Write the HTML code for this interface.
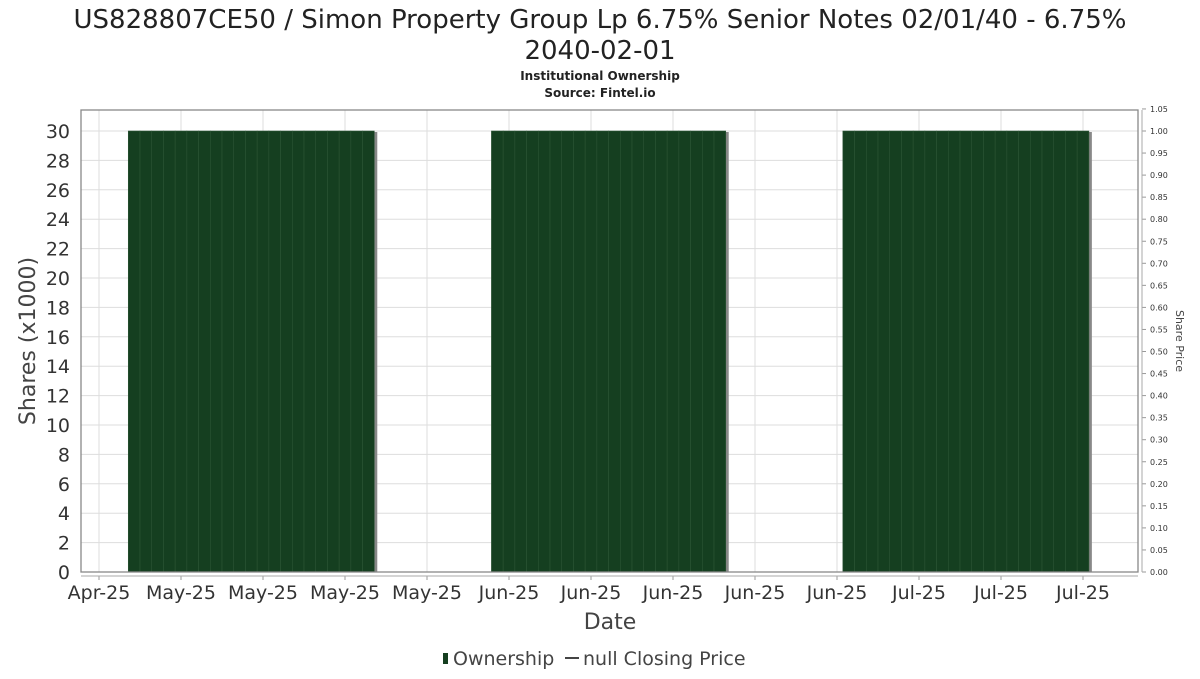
<!DOCTYPE html>
<html><head><meta charset="utf-8"><style>
body{margin:0;background:#fff;width:1200px;height:675px;overflow:hidden;font-family:"DejaVu Sans","Liberation Sans",sans-serif}
</style></head><body>
<svg id="chart" width="1200" height="675" xmlns="http://www.w3.org/2000/svg" font-family="DejaVu Sans, Liberation Sans, sans-serif">
<text x="600" y="28" font-size="26" text-anchor="middle" fill="#222">US828807CE50 / Simon Property Group Lp 6.75% Senior Notes 02/01/40 - 6.75%</text>
<text x="600" y="59" font-size="26" text-anchor="middle" fill="#222">2040-02-01</text>
<text x="600" y="80" font-size="12" font-weight="bold" text-anchor="middle" fill="#222">Institutional Ownership</text>
<text x="600" y="97" font-size="12" font-weight="bold" text-anchor="middle" fill="#222">Source: Fintel.io</text>
<g id="grid"></g><g id="bars"></g><g id="axes"></g>
<text transform="translate(35,341) rotate(-90)" font-size="22" text-anchor="middle" fill="#444">Shares (x1000)</text>
<text transform="translate(1176,341) rotate(90)" font-size="11" text-anchor="middle" fill="#444">Share Price</text>
<text x="610" y="629" font-size="22" text-anchor="middle" fill="#444">Date</text>
<g>
<rect x="443" y="653" width="5" height="11" fill="#153f20"/>
<text x="453" y="665" font-size="19" fill="#444">Ownership</text>
<line x1="565" y1="658" x2="579" y2="658" stroke="#444" stroke-width="2"/>
<text x="583" y="665" font-size="19" fill="#444">null Closing Price</text>
</g>
</svg>
<script>
const days=[3,4,5,6,7,8,9,10,11,12,13,14,15,16,17,18,19,20,21,22,23,34,35,36,37,38,39,40,41,42,43,44,45,46,47,48,49,50,51,52,53,64,65,66,67,68,69,70,71,72,73,74,75,76,77,78,79,80,81,82,83,84];
const values=[30,30,30,30,30,30,30,30,30,30,30,30,30,30,30,30,30,30,30,30,30,30,30,30,30,30,30,30,30,30,30,30,30,30,30,30,30,30,30,30,30,30,30,30,30,30,30,30,30,30,30,30,30,30,30,30,30,30,30,30,30,30];
const xTickLabels=["Apr-25","May-25","May-25","May-25","May-25","Jun-25","Jun-25","Jun-25","Jun-25","Jun-25","Jul-25","Jul-25","Jul-25"];
const xTickDays=[0,7,14,21,28,35,42,49,56,63,70,77,84];
const yTicks=[0,2,4,6,8,10,12,14,16,18,20,22,24,26,28,30];
const y2Ticks=[0,0.05,0.1,0.15,0.2,0.25,0.3,0.35,0.4,0.45,0.5,0.55,0.6,0.65,0.7,0.75,0.8,0.85,0.9,0.95,1.0,1.05];
const NS="http://www.w3.org/2000/svg";
const L=81,R=1138,T=110,B=572;
const xs=d=>99+d*(82/7);
const ys=v=>B-v*(441/30);
const y2s=v=>B-v*(441/1.0);
function mk(tag,parent,attrs){const e=document.createElementNS(NS,tag);for(const k in attrs)e.setAttribute(k,attrs[k]);document.getElementById(parent).appendChild(e);return e;}
yTicks.forEach(v=>{const e=mk('line','grid',{x1:L,x2:R,y1:ys(v),y2:ys(v),stroke:'#ddd'});


const t=mk('text','axes',{x:70,y:ys(v)+7,'font-size':19,'text-anchor':'end',fill:'#333'});t.textContent=v;

});
xTickDays.forEach((d,i)=>{const e=mk('line','grid',{x1:xs(d),x2:xs(d),y1:T,y2:B,stroke:'#ddd'});


mk('line','axes',{x1:xs(d),x2:xs(d),y1:576,y2:580,stroke:'#999'});
const t=mk('text','axes',{x:xs(d),y:599,'font-size':19,'text-anchor':'middle',fill:'#333'});t.textContent=xTickLabels[i];

});
const w=82/7;
days.forEach((d,i)=>{mk('rect','bars',{x:xs(d)-w/2+3,y:ys(values[i])+1,width:w,height:B-ys(values[i])-1,fill:'#888'});});
days.forEach((d,i)=>{const r=mk('rect','bars',{x:xs(d)-w/2,y:ys(values[i]),width:w,height:B-ys(values[i]),fill:'#153f20',stroke:'#2c5535','stroke-width':0.6});

});
y2Ticks.forEach(v=>{mk('line','axes',{x1:1142,x2:1146,y1:y2s(v),y2:y2s(v),stroke:'#999'});
const t=mk('text','axes',{x:1150,y:y2s(v)+3,'font-size':8,fill:'#333'});t.textContent=v.toFixed(2);

});
const f=mk('rect','axes',{x:L,y:T,width:R-L,height:B-T,fill:'none',stroke:'#888','stroke-width':1.3});


mk('line','axes',{x1:L,x2:R,y1:576,y2:576,stroke:'#aaa'});
mk('line','axes',{x1:1142,x2:1142,y1:T,y2:B,stroke:'#aaa'});
</script>
</body></html>
